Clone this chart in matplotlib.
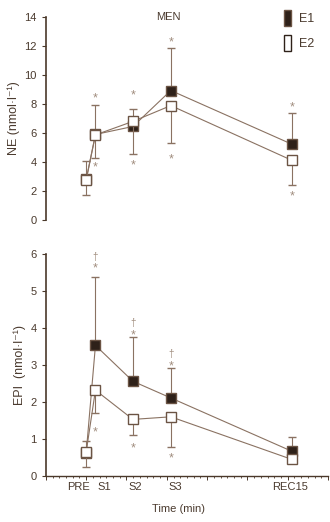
import numpy as np
import matplotlib
matplotlib.use('Agg')
import matplotlib.pyplot as plt
from matplotlib.ticker import MultipleLocator
from matplotlib.patches import Patch

# time points (min, as placed on the axis)
times = [0, 2.3, 11.6, 21, 51]
time_labels = ['PRE', 'S1', 'S2', 'S3', 'REC15']
label_x = [-1.8, 4.6, 12.3, 22.0, 50.5]

# NE (nmol/l)
ne_e1 = [2.8, 5.9, 6.45, 8.93, 5.23]
ne_e1_up = [1.3, 2.05, 1.22, 2.93, 2.14]
ne_e2 = [2.76, 5.87, 6.8, 7.89, 4.12]
ne_e2_down = [1.03, 1.6, 2.24, 2.59, 1.72]
ne_star_up = [None, 8.6, 8.82, 12.5, 8.0]
ne_star_down = [None, 3.85, 3.98, 4.44, 1.89]

# EPI (nmol/l)
epi_e1 = [0.62, 3.53, 2.56, 2.11, 0.67]
epi_e1_up = [0.33, 1.86, 1.2, 0.8, 0.39]
epi_e2 = [0.65, 2.32, 1.53, 1.6, 0.45]
epi_e2_down = [0.41, 0.61, 0.41, 0.81, 0.0]
epi_star_up = [None, 5.7, 3.9, 3.06, None]
epi_star_down = [None, 1.28, 0.83, 0.58, None]
epi_dagger = [None, 6.0, 4.21, 3.38, None]

dark = '#2e2119'
edge = '#6b5444'
line_c = '#8a7262'
text_c = '#4a3a2e'
star_c = '#a08c7d'

plt.rcParams['font.family'] = ['Liberation Sans', 'DejaVu Sans']
plt.rcParams['text.color'] = text_c
plt.rcParams['axes.labelcolor'] = text_c
plt.rcParams['axes.edgecolor'] = '#4a382a'
plt.rcParams['xtick.color'] = '#4a382a'
plt.rcParams['ytick.color'] = '#4a382a'
plt.rcParams['xtick.labelcolor'] = text_c
plt.rcParams['ytick.labelcolor'] = text_c

fig = plt.figure(figsize=(3.3, 5.22), dpi=100)
ax1 = fig.add_axes([0.139, 0.5785, 0.855, 0.389])
ax2 = fig.add_axes([0.139, 0.0881, 0.855, 0.4253])


def draw(ax, e1, e1_up, e2, e2_down):
    z = np.zeros(len(times))
    ax.errorbar(times, e1, yerr=[z, e1_up], color=line_c, lw=0.8,
                elinewidth=0.8, capsize=3, capthick=0.8, zorder=2,
                marker='s', ms=7.5, mfc=dark, mec=edge, mew=1.0)
    ax.errorbar(times, e2, yerr=[e2_down, z], color=line_c, lw=0.8,
                elinewidth=0.8, capsize=3, capthick=0.8, zorder=3,
                marker='s', ms=7.5, mfc='white', mec=edge, mew=1.0)
    ax.set_xlim(-10, 60)
    for s in ['top', 'right']:
        ax.spines[s].set_visible(False)
    ax.tick_params(axis='y', labelsize=8, length=3, width=0.8)


def stars(ax, vals, sym='*', size=9, dy=-2.5):
    # the glyph sits high in its box, so nudge it down a little
    for x, v in zip(times, vals):
        if v is not None:
            ax.annotate(sym, (x, v), xytext=(0, dy), textcoords='offset points',
                        ha='center', va='center', fontsize=size, color=star_c)


# top panel: NE
draw(ax1, ne_e1, ne_e1_up, ne_e2, ne_e2_down)
ax1.set_ylim(0, 14)
ax1.yaxis.set_major_locator(MultipleLocator(2))
ax1.spines['bottom'].set_visible(False)
ax1.set_xticks([])
ax1.spines['left'].set_linewidth(1.2)
stars(ax1, ne_star_up)
stars(ax1, ne_star_down)
ax1.set_ylabel('NE (nmol\u00b7l\u207b\u00b9)', fontsize=9, labelpad=3)
ax1.text(20.5, 14, 'MEN', ha='center', va='center', fontsize=8)
handles = [Patch(facecolor=dark, edgecolor=edge, label='E1'),
           Patch(facecolor='white', edgecolor=dark, label='E2')]
ax1.legend(handles=handles, loc='upper right', bbox_to_anchor=(0.99, 1.09),
           frameon=False, fontsize=9, handlelength=0.6, handleheight=1.6,
           handletextpad=0.6, labelspacing=0.7)

# bottom panel: EPI
draw(ax2, epi_e1, epi_e1_up, epi_e2, epi_e2_down)
ax2.set_ylim(0, 6)
ax2.yaxis.set_major_locator(MultipleLocator(1))
ax2.xaxis.set_major_locator(MultipleLocator(10))
ax2.xaxis.set_minor_locator(MultipleLocator(10 / 6))
ax2.tick_params(axis='x', which='major', length=3, width=0.7, labelbottom=False)
ax2.tick_params(axis='x', which='minor', length=1.5, width=0.6)
ax2.spines['left'].set_linewidth(1.2)
ax2.spines['bottom'].set_linewidth(1.0)
stars(ax2, epi_star_up)
stars(ax2, epi_star_down)
stars(ax2, epi_dagger, sym='\u2020', size=7, dy=-2)
for x, lab in zip(label_x, time_labels):
    ax2.text(x, -0.3, lab, ha='center', va='center', fontsize=8)
ax2.text(23, -0.9, 'Time (min)', ha='center', va='center', fontsize=8)
ax2.set_ylabel('EPI  (nmol\u00b7l\u207b\u00b9)', fontsize=9, labelpad=3)

fig.savefig('out.png', dpi=100)
